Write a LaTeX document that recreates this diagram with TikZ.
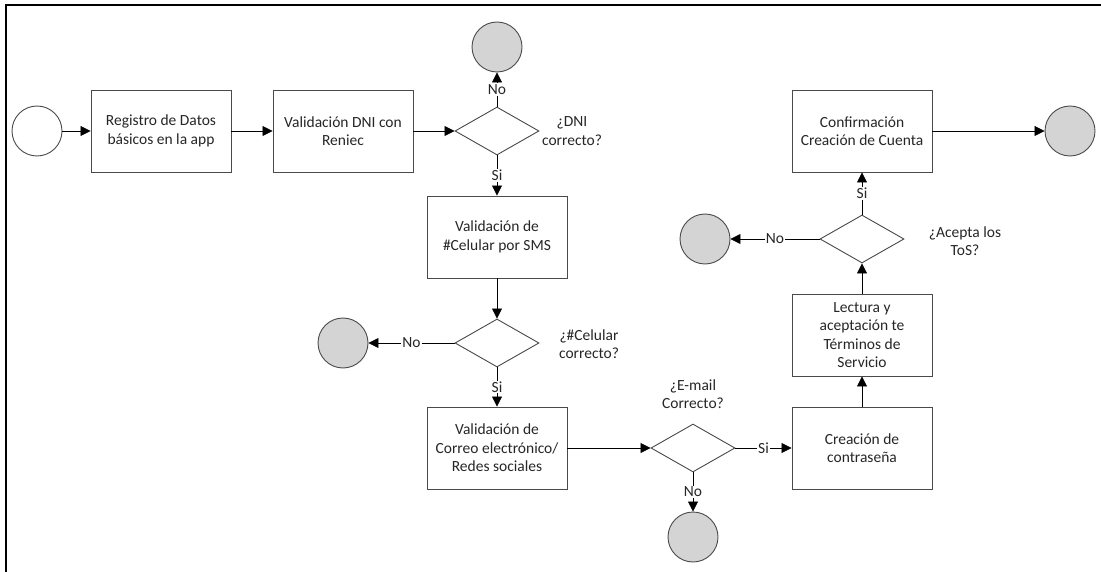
\documentclass[tikz,border=0pt]{standalone}
\usepackage{fontspec}
\setmainfont{Carlito}
\usetikzlibrary{shapes.geometric,arrows.meta}
\definecolor{evfill}{HTML}{D4D4D4}
\definecolor{edgegray}{HTML}{4A4A4A}
\definecolor{txt}{HTML}{262626}
\tikzset{
  txtfont/.style={font=\fontsize{15.5pt}{18.5pt}\selectfont, text=txt},
  procbox/.style={draw=edgegray, line width=0.9pt, minimum width=140pt, minimum height=82pt, align=center, txtfont, inner sep=2pt},
  decis/.style={diamond, draw=edgegray, line width=0.9pt, minimum width=84pt, minimum height=48pt, inner sep=0pt},
  evend/.style={circle, draw=edgegray, line width=0.9pt, fill=evfill, minimum size=50pt, inner sep=0pt},
  evstart/.style={circle, draw=edgegray, line width=0.9pt, fill=white, minimum size=50pt, inner sep=0pt},
  qtext/.style={align=center, txtfont},
  flow/.style={-{Triangle[length=10pt,width=10pt]}, line width=0.8pt, draw=black},
  lab/.style={fill=white, inner sep=1pt, txtfont}
}
\begin{document}
\begin{tikzpicture}[x=1pt,y=-1pt]
\useasboundingbox (0,0) rectangle (1101,572);
\draw[line width=2.5pt] (6,572) -- (6,5) -- (1101,5);

% nodes
\node[evstart] (start) at (37,131) {};
\node[procbox] (reg) at (161,131) {Registro de Datos\\básicos en la app};
\node[procbox] (dni) at (343,131) {Validación DNI con\\Reniec};
\node[decis] (d1) at (497,131) {};
\node[qtext] (q1) at (572,131) {¿DNI\\correcto?};
\node[evend] (e1) at (497,47) {};
\node[procbox] (sms) at (497,237) {Validación de\\\#Celular por SMS};
\node[decis] (d2) at (497,343) {};
\node[qtext] (q2) at (589,344) {¿\#Celular\\correcto?};
\node[evend] (e2) at (343,343) {};
\node[procbox] (mail) at (497,448) {Validación de\\Correo electrónico/\\Redes sociales};
\node[decis] (d3) at (693,448) {};
\node[qtext] (q3) at (693,394) {¿E-mail\\Correcto?};
\node[evend] (e3) at (693,537) {};
\node[procbox] (pwd) at (862,448) {Creación de\\contraseña};
\node[procbox] (tos) at (862,335) {Lectura y\\aceptación te\\Términos de\\Servicio};
\node[decis] (d4) at (862,239) {};
\node[qtext] (q4) at (965,241) {¿Acepta los\\ToS?};
\node[evend] (e4) at (705,239) {};
\node[procbox] (conf) at (862,131) {Confirmación\\Creación de Cuenta};
\node[evend] (e5) at (1070,131) {};

% connectors
\draw[flow] (start) -- (reg);
\draw[flow] (reg) -- (dni);
\draw[flow] (dni) -- (d1);
\draw[flow] (d1) -- node[lab] {No} (e1);
\draw[flow] (d1) -- node[lab] {Si} (sms);
\draw[flow] (sms) -- (d2);
\draw[flow] (d2) -- node[lab] {No} (e2);
\draw[flow] (d2) -- node[lab] {Si} (mail);
\draw[flow] (mail) -- (d3);
\draw[flow] (d3) -- node[lab] {No} (e3);
\draw[flow] (d3) -- node[lab] {Si} (pwd);
\draw[flow] (pwd) -- (tos);
\draw[flow] (tos) -- (d4);
\draw[flow] (d4) -- node[lab] {No} (e4);
\draw[flow] (d4) -- node[lab] {Si} (conf);
\draw[flow] (conf) -- (e5);
\end{tikzpicture}
\end{document}
